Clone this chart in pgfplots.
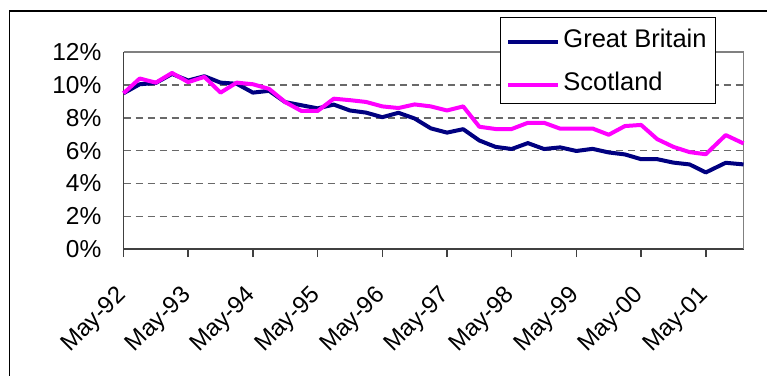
\documentclass[border=0pt]{standalone}
\usepackage{pgfplots}
\pgfplotsset{compat=1.18}
\usepackage{pgfplotstable}
\usepackage{fontspec}
\setmainfont{Liberation Sans}
\definecolor{gbnavy}{RGB}{0,0,128}
\definecolor{scmag}{RGB}{255,0,255}
\definecolor{gridgray}{RGB}{105,105,105}
\definecolor{axisdark}{RGB}{64,64,64}
\definecolor{framegray}{RGB}{128,128,128}
\pgfplotstableread{
m gb sc
0 9.50 9.50
3 10.05 10.40
6 10.13 10.15
9 10.68 10.74
12 10.28 10.18
15 10.54 10.50
18 10.15 9.54
21 10.08 10.15
24 9.54 10.05
27 9.65 9.77
30 8.96 8.96
33 8.77 8.42
36 8.58 8.42
39 8.81 9.17
42 8.45 9.08
45 8.32 8.97
48 8.04 8.70
51 8.31 8.60
54 7.96 8.82
57 7.36 8.70
60 7.10 8.45
63 7.31 8.70
66 6.62 7.46
69 6.23 7.32
72 6.10 7.32
75 6.46 7.70
78 6.10 7.70
81 6.20 7.34
84 5.98 7.35
87 6.11 7.35
90 5.89 6.97
93 5.77 7.50
96 5.48 7.57
99 5.48 6.70
102 5.27 6.23
105 5.16 5.91
108 4.67 5.78
111.7 5.26 6.95
115 5.16 6.44
}\unemp
\begin{document}
\begin{tikzpicture}[x=1pt,y=1pt]
\useasboundingbox (0,0) rectangle (767,375);
\draw[black, line width=1.2pt] (9.8,-20) -- (9.8,364) -- (800,364);
\begin{axis}[
  at={(123.5pt,126pt)}, anchor=south west,
  width=620pt, height=196.7pt, scale only axis,
  xmin=0, xmax=115, ymin=0, ymax=12,
  axis lines*=left,
  axis line style={draw=axisdark, line width=1.8pt, -},
  xtick={0,12,...,108},
  xticklabels={May-92,May-93,May-94,May-95,May-96,May-97,May-98,May-99,May-00,May-01},
  ytick={0,2,...,12},
  yticklabels={0\%,2\%,4\%,6\%,8\%,10\%,12\%},
  xtick align=outside,
  major tick length=8pt,
  xtick style={draw=axisdark, line width=1.5pt},
  ytick style={draw=none},
  ymajorgrids,
  grid style={draw=gridgray, line width=1.3pt, dash pattern=on 7pt off 5pt},
  tick label style={font=\fontsize{24}{28}\selectfont},
  yticklabel style={inner sep=0pt, anchor=east, xshift=-22pt, font=\fontsize{24.5}{28}\selectfont},
  xticklabel style={inner sep=0pt, xshift=-8.5pt, yshift=-27pt, rotate=45, anchor=north east, font=\fontsize{24}{28}\selectfont},
  clip=false,
  legend style={at={(0.607,1.181)}, anchor=north west, draw=black, line width=1.2pt,
    fill=white, inner xsep=6pt, inner ysep=8.6pt, row sep=16.7pt,
    font=\fontsize{25.5}{30}\selectfont, nodes={inner sep=3pt}, cells={anchor=west}},
  legend image code/.code={\draw[#1] (0pt,-3pt) -- (50pt,-3pt);},
]
\draw[draw=framegray, line width=1.8pt] (rel axis cs:0,1) -- (rel axis cs:1,1) -- (rel axis cs:1,0);
\addplot[gbnavy, line width=4pt, line join=round] table[x=m, y=gb] {\unemp};
\addlegendentry{Great Britain}
\addplot[scmag, line width=4pt, line join=round] table[x=m, y=sc] {\unemp};
\addlegendentry{Scotland}
\end{axis}
\end{tikzpicture}
\end{document}
